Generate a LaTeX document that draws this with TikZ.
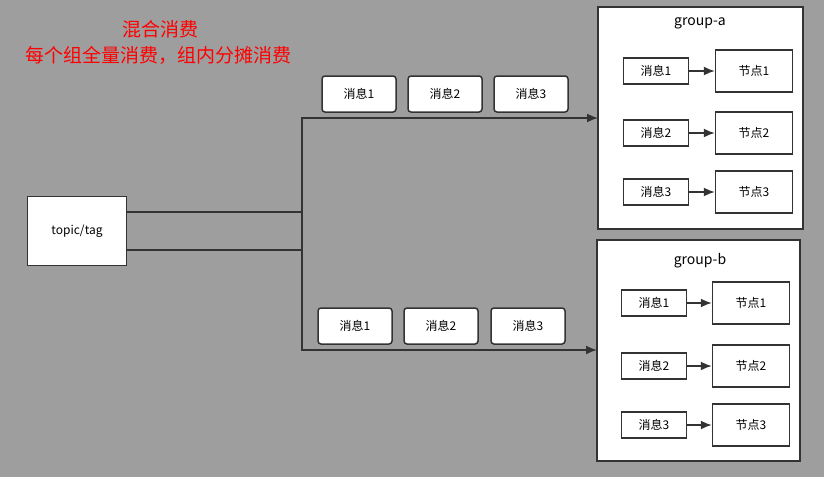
\documentclass[tikz,border=0pt]{standalone}
\usepackage{fontspec}
\setmainfont{Noto Sans CJK SC}
\usetikzlibrary{arrows.meta}
\definecolor{bggray}{HTML}{9E9E9E}
\definecolor{linegray}{HTML}{333333}

\begin{document}
\begin{tikzpicture}[x=1pt, y=-1pt,
  box/.style = {draw=linegray, fill=white, line width=1.5pt, font=\fontsize{12}{12}\selectfont},
  msg/.style = {box, rounded corners=3pt, minimum width=74pt, minimum height=36pt},
  inmsg/.style = {box, minimum width=65pt, minimum height=26pt},
  peer/.style = {box, minimum width=77pt, minimum height=42pt},
  grp/.style = {draw=linegray, fill=white, line width=1.8pt},
  link/.style = {draw=linegray, line width=1.6pt, -{Latex[length=11pt,width=9pt]}}]
\fill[bggray] (0,0) rectangle (824,477);
\useasboundingbox (0,0) rectangle (824,477);
\node[red, font=\fontsize{19}{19}\selectfont] (title) at (160,29) {混合消费};
\node[red, font=\fontsize{19}{19}\selectfont] (subtitle) at (158,55) {每个组全量消费，组内分摊消费};
\node[box, minimum width=99pt, minimum height=69pt] (topic) at (77,231) {topic/tag};
% group-a
\draw[grp] (598,7) rectangle (803,229);
\node[font=\fontsize{14}{14}\selectfont] (ga) at (700,23) {group-a};
\coordinate (ina) at (598,118);
\foreach \i/\y in {1/71, 2/133, 3/192} {
  \node[inmsg] (am\i) at (656,\y) {消息\i};
  \node[peer] (an\i) at (754,\y) {节点\i};
  \draw[link] (am\i) -- (an\i);
}
% group-b
\draw[grp] (597,240) rectangle (800,461);
\node[font=\fontsize{14}{14}\selectfont] (gb) at (700,261) {group-b};
\coordinate (inb) at (597,350);
\foreach \i/\y in {1/303, 2/366, 3/425} {
  \node[inmsg] (bm\i) at (654,\y) {消息\i};
  \node[peer] (bn\i) at (751,\y) {节点\i};
  \draw[link] (bm\i) -- (bn\i);
}
% messages on the way
\foreach \i/\x in {1/359, 2/445, 3/531}
  \node[msg] (ta\i) at (\x,94) {消息\i};
\foreach \i/\x in {1/355, 2/441, 3/528}
  \node[msg] (tb\i) at (\x,326) {消息\i};
\draw[link] ([yshift=-19pt]topic.east) -| (302,118) -- (ina);
\draw[link] ([yshift=19pt]topic.east) -| (302,350) -- (inb);
\end{tikzpicture}
\end{document}
